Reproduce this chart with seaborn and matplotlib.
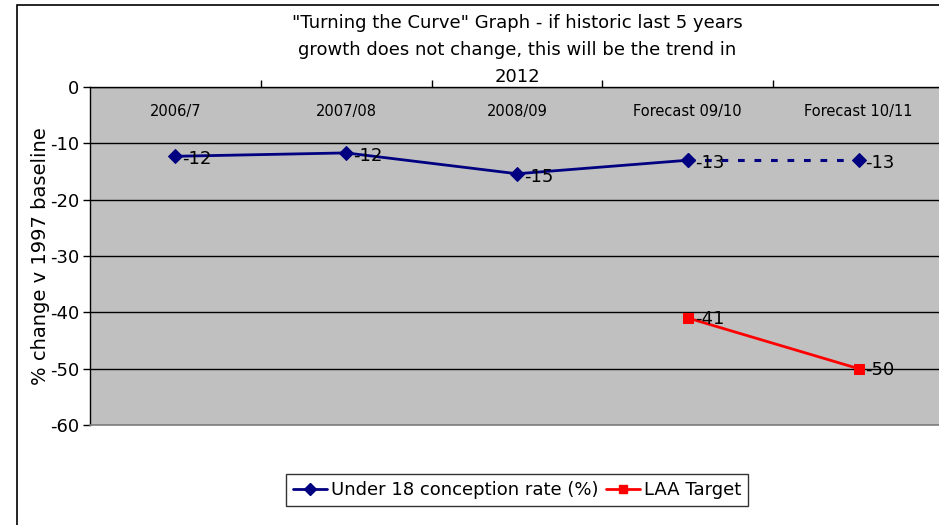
import numpy as np
import pandas as pd
import seaborn as sns
import matplotlib
matplotlib.use("Agg")
from matplotlib import pyplot as plt
from matplotlib.lines import Line2D
from matplotlib.patches import Rectangle

# Data
categories = ["2006/7", "2007/08", "2008/09", "Forecast 09/10", "Forecast 10/11"]
conception_rate = [-12.3, -11.7, -15.4, -13.0, -13.0]
laa_target = [np.nan, np.nan, np.nan, -41.0, -50.0]
y_ticks = [0, -10, -20, -30, -40, -50, -60]

title = '"Turning the Curve" Graph - if historic last 5 years\ngrowth does not change, this will be the trend in\n2012'
y_label = "% change v 1997 baseline"

sns.set_style("white")
plt.rcParams["font.family"] = ["DejaVu Sans"]
plt.rcParams["text.color"] = "black"
plt.rcParams["axes.labelcolor"] = "black"
plt.rcParams["xtick.color"] = "black"
plt.rcParams["ytick.color"] = "black"

df = pd.DataFrame({"pos": np.arange(len(categories)),
                   "category": categories,
                   "rate": conception_rate,
                   "target": laa_target})
actual = df.iloc[:4]
forecast = df.iloc[3:]

BLUE = "#000080"
RED = "#FF0000"

fig = plt.figure(figsize=(9.39, 5.25), dpi=100)
ax = fig.add_axes([90 / 939, 1 - 425 / 525, (944 - 90) / 939, (425 - 87) / 525])
ax.set_facecolor("#C0C0C0")

# Outer chart frame
fig.patches.append(Rectangle((17 / 939, -0.2), 1.2, 1.2 - 5 / 525,
                             transform=fig.transFigure, fill=False,
                             edgecolor="black", lw=1.2, zorder=0))

sns.lineplot(data=actual, x="pos", y="rate", ax=ax, color=BLUE, lw=2,
             marker="D", markersize=7, markeredgecolor=BLUE, zorder=3)
sns.lineplot(data=forecast, x="pos", y="rate", ax=ax, color=BLUE, lw=2.2,
             linestyle=(0, (2.2, 3.2)), marker="D", markersize=7,
             markeredgecolor=BLUE, zorder=3)
sns.lineplot(data=df.dropna(), x="pos", y="target", ax=ax, color=RED, lw=2,
             marker="s", markersize=7, markeredgecolor=RED, zorder=3)

# Data labels
for x, v in zip(df["pos"], df["rate"]):
    ax.annotate(f"{v:.0f}", (x, v), xytext=(5, -2), textcoords="offset points",
                ha="left", va="center", fontsize=13, color="black", zorder=4)
for x, v in zip(df["pos"], df["target"]):
    if not np.isnan(v):
        ax.annotate(f"{v:.0f}", (x, v), xytext=(5, -1), textcoords="offset points",
                    ha="left", va="center", fontsize=13, color="black", zorder=4)

ax.set_ylim(-60, 0)
ax.set_xlim(-0.5, len(categories) - 0.5)
ax.set_yticks(y_ticks)
ax.set_yticklabels([str(t) for t in y_ticks], fontsize=13)
ax.yaxis.grid(True, color="black", lw=1)
ax.set_axisbelow(True)
ax.tick_params(axis="y", direction="out", length=5, width=1, color="black", pad=3, left=True)

# Category labels inside the plot near the top, boundary ticks on top axis
ax.set_xticks(df["pos"])
ax.set_xticklabels(categories, fontsize=10.5)
ax.xaxis.set_ticks_position("top")
ax.tick_params(axis="x", which="major", length=0, pad=-23, top=True, bottom=False,
               labeltop=True, labelbottom=False)
ax.set_xticks(np.arange(len(categories)) + 0.5, minor=True)
ax.tick_params(axis="x", which="minor", direction="out", length=5, width=1,
               color="black", top=True, bottom=False)
ax.set_xlabel("")
ax.set_ylabel(y_label, fontsize=14, labelpad=0)

for side in ["top", "left"]:
    ax.spines[side].set_color("black")
    ax.spines[side].set_linewidth(1)
ax.spines["bottom"].set_color("#808080")
ax.spines["bottom"].set_linewidth(1.2)
ax.spines["right"].set_visible(False)

fig.text(517 / 939, 1 - 86 / 525, title, ha="center", va="bottom", fontsize=13,
         linespacing=1.65)

handles = [Line2D([], [], color=BLUE, lw=2, marker="D", markersize=6),
           Line2D([], [], color=RED, lw=2, marker="s", markersize=6)]
leg = fig.legend(handles, ["Under 18 conception rate (%)", "LAA Target"],
                 loc="center", bbox_to_anchor=(517 / 939, 1 - 490 / 525), ncol=2,
                 fontsize=13, frameon=True, fancybox=False, shadow=False,
                 handlelength=1.9, handletextpad=0.2, columnspacing=0.4,
                 borderpad=0.4, borderaxespad=0)
leg.get_frame().set_edgecolor("black")
leg.get_frame().set_linewidth(1)

fig.savefig("out.png", dpi=100)
